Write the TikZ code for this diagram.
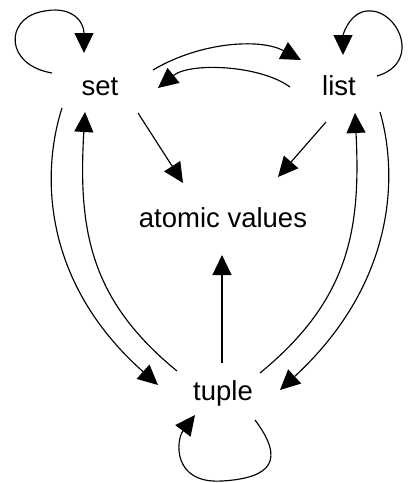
\documentclass[tikz,border=0pt]{standalone}
\usepackage{fontspec}
\setmainfont{Liberation Sans}
\usetikzlibrary{arrows.meta,calc}
\begin{document}
\begin{tikzpicture}[x=1pt,y=-1pt,
  lbl/.style={anchor=base,inner sep=0pt,font=\fontsize{27.5}{31}\selectfont},
  conn/.style={line width=1.15pt,-{Triangle[length=20pt,width=19pt]}}]
\useasboundingbox (0,0) rectangle (409,483);
\node[lbl] (set) at (100,95) {set};
\node[lbl] (list) at (339,95) {list};
\node[lbl] (atomic) at (223,227) {atomic values};
\node[lbl] (tuple) at (223,400) {tuple};
% self loops
\draw[conn] ($(set.base)+(-48,-22)$) .. controls (5,65) and (5,20) .. (40,12)
  .. controls (72,4) and (84,22) .. ($(set.base)+(-16,-42)$);
\draw[conn] ($(list.base)+(38,-19)$) .. controls (425,62) and (395,2) .. (362,12)
  .. controls (348,17) and (343,35) .. ($(list.base)+(4,-40)$);
\draw[conn] ($(tuple.base)+(32,20)$) .. controls (285,460) and (272,478) .. (222,481)
  .. controls (172,484) and (176,440) .. ($(tuple.base)+(-28,15)$);
% set <-> list
\draw[conn] ($(set.base)+(53,-25)$) .. controls (200,42) and (260,38) .. ($(list.base)+(-38,-35)$);
\draw[conn] ($(list.base)+(-49,-8)$) .. controls (260,65) and (190,62) .. ($(set.base)+(58,-7)$);
% to atomic values
\draw[conn] ($(set.base)+(38,18)$) -- ($(atomic.base)+(-40,-44)$);
\draw[conn] ($(list.base)+(-13,27)$) -- ($(atomic.base)+(55,-50)$);
\draw[conn] ($(tuple.base)+(-1,-37)$) -- ($(atomic.base)+(-1,28)$);
% set <-> tuple
\draw[conn] ($(set.base)+(-38,13)$) .. controls (42,170) and (40,280) .. ($(tuple.base)+(-65,-15)$);
\draw[conn] ($(tuple.base)+(-46,-29)$) .. controls (90,300) and (78,230) .. ($(set.base)+(-15,17)$);
% list <-> tuple
\draw[conn] ($(list.base)+(41,17)$) .. controls (397,170) and (399,280) .. ($(tuple.base)+(57,-10)$);
\draw[conn] ($(tuple.base)+(37,-27)$) .. controls (349,300) and (361,230) .. ($(list.base)+(16,18)$);
\end{tikzpicture}
\end{document}
